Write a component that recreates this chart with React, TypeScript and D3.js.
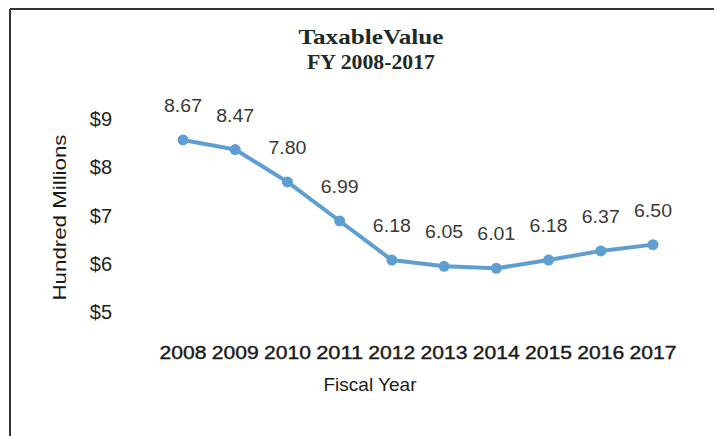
import React from 'react'
import * as d3 from 'd3'

const years = ['2008', '2009', '2010', '2011', '2012', '2013', '2014', '2015', '2016', '2017']
const values = [8.67, 8.47, 7.8, 6.99, 6.18, 6.05, 6.01, 6.18, 6.37, 6.5]
const valueLabels = ['8.67', '8.47', '7.80', '6.99', '6.18', '6.05', '6.01', '6.18', '6.37', '6.50']
const yTicks = [5, 6, 7, 8, 9]

const W = 714
const H = 436

export default function App() {
  const x = d3.scalePoint<string>().domain(years).range([183, 653])
  const y = d3.scaleLinear().domain([5, 9]).range([317, 124])

  const line = d3
    .line<number>()
    .x((_, i) => x(years[i])!)
    .y((d) => y(d))

  const lineColor = '#5f9ed3'
  const sans = 'Arial, "Liberation Sans", sans-serif'

  return (
    <svg width={W} height={H} style={{ position: 'absolute', left: 0, top: 0, background: '#fff' }}>
      {/* frame */}
      <line x1={10} y1={9} x2={W} y2={9} stroke="#333" strokeWidth={2} />
      <line x1={10} y1={9} x2={10} y2={H} stroke="#333" strokeWidth={2} />

      {/* title */}
      <g fontFamily='"Liberation Serif", "Times New Roman", serif' fontWeight="bold" fill="#1e2a27" textAnchor="middle">
        <text x={371} y={44} fontSize={21} textLength={145} lengthAdjust="spacingAndGlyphs">TaxableValue</text>
        <text x={371} y={69} fontSize={21} textLength={128} lengthAdjust="spacingAndGlyphs">FY 2008-2017</text>
      </g>

      {/* y axis labels */}
      <g fontFamily={sans} fontSize={20} fill="#222" textAnchor="end">
        {yTicks.map((t) => (
          <text key={t} x={112} y={y(t) - 5} dy="0.35em">
            ${t}
          </text>
        ))}
      </g>
      <text
        transform={`translate(66,${(y(5) + y(9)) / 2 - 3}) rotate(-90)`}
        textAnchor="middle"
        fontFamily={sans}
        fontSize={19}
        fill="#1a1a1a"
        textLength={166}
        lengthAdjust="spacingAndGlyphs"
      >
        Hundred Millions
      </text>

      {/* x axis labels */}
      <g fontFamily={sans} fontSize={19} fill="#1a1a1a" stroke="#1a1a1a" strokeWidth={0.4} textAnchor="middle">
        {years.map((yr) => (
          <text key={yr} x={x(yr)} y={359} textLength={47} lengthAdjust="spacingAndGlyphs">
            {yr}
          </text>
        ))}
      </g>
      <text x={370} y={391} textAnchor="middle" fontFamily={sans} fontSize={19} fill="#1a1a1a">
        Fiscal Year
      </text>

      {/* series */}
      <path d={line(values) ?? ''} fill="none" stroke={lineColor} strokeWidth={4} strokeLinejoin="round" />
      {values.map((v, i) => (
        <circle key={i} cx={x(years[i])} cy={y(v)} r={5.5} fill={lineColor} />
      ))}

      {/* data labels */}
      <g fontFamily={sans} fontSize={18} fill="#3a3a3a" textAnchor="middle">
        {values.map((v, i) => (
          <text key={i} x={x(years[i])} y={y(v) - 28} textLength={38} lengthAdjust="spacingAndGlyphs">
            {valueLabels[i]}
          </text>
        ))}
      </g>
    </svg>
  )
}
